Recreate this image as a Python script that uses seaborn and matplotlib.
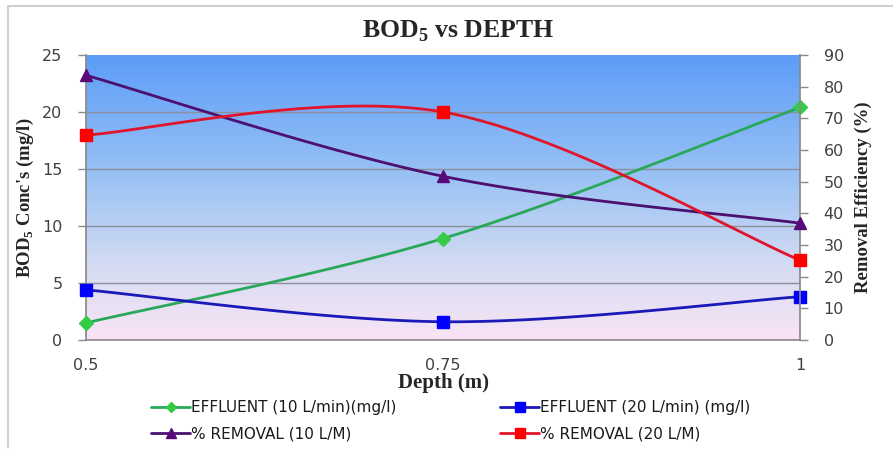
import numpy as np
import pandas as pd
import matplotlib
matplotlib.use("Agg")
import matplotlib.pyplot as plt
import seaborn as sns
from matplotlib.colors import LinearSegmentedColormap
from matplotlib.lines import Line2D

# ---- data ----
depth = [0.5, 0.75, 1.0]
effluent_10 = [1.5, 8.9, 20.4]      # mg/l (left axis)
effluent_20 = [4.4, 1.6, 3.8]       # mg/l (left axis)
removal_10 = [83.6, 51.7, 36.9]     # % (right axis)
removal_20 = [64.7, 72.0, 25.2]     # % (right axis)
x_ticks = [0.5, 0.75, 1.0]
x_ticklabels = ["0.5", "0.75", "1"]
left_ticks = [0, 5, 10, 15, 20, 25]
right_ticks = [0, 10, 20, 30, 40, 50, 60, 70, 80, 90]
labels = ["EFFLUENT (10 L/min)(mg/l)", "EFFLUENT (20 L/min) (mg/l)",
          "% REMOVAL (10 L/M)", "% REMOVAL (20 L/M)"]

sns.set_theme(style="white")
plt.rcParams['font.family'] = ['DejaVu Sans']
plt.rcParams['mathtext.fontset'] = 'custom'
plt.rcParams['mathtext.rm'] = 'Liberation Serif'
plt.rcParams['mathtext.bf'] = 'Liberation Serif:bold'


def smooth(xs, ys, n=40):
    """Catmull-Rom style smoothing (like Excel's smoothed line) for drawing."""
    P = np.column_stack([xs, ys]).astype(float)
    ext = np.vstack([P[0], P, P[-1]])
    out = []
    for i in range(len(P) - 1):
        p0, p1, p2, p3 = ext[i], ext[i + 1], ext[i + 2], ext[i + 3]
        c1 = p1 + (p2 - p0) / 6.0
        c2 = p2 - (p3 - p1) / 6.0
        t = np.linspace(0, 1, n)[:, None]
        seg = ((1 - t) ** 3) * p1 + 3 * ((1 - t) ** 2) * t * c1 + 3 * (1 - t) * t ** 2 * c2 + t ** 3 * p2
        out.append(seg if i == 0 else seg[1:])
    s = np.vstack(out)
    return pd.DataFrame({"x": s[:, 0], "y": s[:, 1]})


W, H = 893, 453
fig = plt.figure(figsize=(W / 100, H / 100), dpi=100)
L, R, T, B = 86, 800, 55, 340
ax = fig.add_axes([L / W, 1 - B / H, (R - L) / W, (B - T) / H])
ax2 = ax.twinx()

# gradient background
cmap = LinearSegmentedColormap.from_list("bg", [(0.0, "#5c9df8"), (0.45, "#9ec4f4"),
                                                (0.75, "#d6dcf2"), (1.0, "#fae4f6")])
grad = np.linspace(0, 1, 256)[:, None]
ax.imshow(grad, extent=[0, 1, 0, 1], transform=ax.transAxes, cmap=cmap,
          aspect="auto", zorder=0)

# gridlines
for v in left_ticks[1:-1]:
    ax.axhline(v, color="#8c8f9c", lw=1.0, zorder=1)

series = [
    (ax, effluent_10, "#2aa85a", "#33cc44", "D", 7),
    (ax, effluent_20, "#1a1ab8", "#0000ff", "s", 9),
    (ax2, removal_10, "#4b1070", "#5a0a78", "^", 9),
    (ax2, removal_20, "#e0142a", "#ff0000", "s", 9),
]
handles = []
for a, vals, lc, mc, mk, ms in series:
    df = smooth(depth, vals)
    sns.lineplot(data=df, x="x", y="y", ax=a, color=lc, lw=2.0, sort=False,
                 estimator=None, zorder=3, clip_on=False)
    a.plot(depth, vals, linestyle="none", marker=mk, color=mc, ms=ms,
           mec=mc, zorder=4, clip_on=False)
    handles.append(Line2D([0], [0], color=lc, lw=2, marker=mk, ms=ms * 0.8,
                          mfc=mc, mec=mc))

ax.set_xlim(0.5, 1.0)
ax.set_ylim(0, 25)
ax2.set_ylim(0, 90)
ax.set_xticks(x_ticks)
ax.set_xticklabels(x_ticklabels)
ax.set_yticks(left_ticks)
ax2.set_yticks(right_ticks)

tick_color = "#404040"
for a in (ax, ax2):
    a.tick_params(axis="both", labelsize=11.5, colors=tick_color, length=6,
                  width=1, direction="out", pad=11)
    for s in a.spines.values():
        s.set_visible(False)
    a.set_xlabel("")
    a.set_ylabel("")
ax.tick_params(axis="x", pad=7)
for s in ["left", "bottom"]:
    ax.spines[s].set_visible(True)
    ax.spines[s].set_color("#8a8a8a")
ax2.spines["right"].set_visible(True)
ax2.spines["right"].set_color("#8a8a8a")
ax.tick_params(axis="both", colors="#8a8a8a", labelcolor=tick_color)
ax2.tick_params(axis="y", colors="#8a8a8a", labelcolor=tick_color)

serif = "Liberation Serif"
ax.set_xlabel("Depth (m)", family=serif, fontweight="bold", fontsize=15, labelpad=0)
ax.set_ylabel(r"BOD$_\mathbf{5}$ Conc's (mg/l)", family=serif, fontweight="bold",
              fontsize=13.5, labelpad=4)
ax2.set_ylabel("Removal Efficiency (%)", family=serif, fontweight="bold",
               fontsize=13.5, labelpad=8)
fig.text(0.513, 1 - 31 / H, r"BOD$_\mathbf{5}$ vs DEPTH", family=serif,
         fontweight="bold", fontsize=18.5, ha="center", va="center")

# legend rows: (green, blue) then (purple, red); matplotlib fills column-wise
order = [0, 2, 1, 3]
fig.legend([handles[i] for i in order], [labels[i] for i in order], ncol=2,
           loc="center", bbox_to_anchor=(0.505, 1 - 421 / H),
           frameon=False, fontsize=11, handlelength=2.5, columnspacing=6.8,
           handletextpad=0.1, labelspacing=0.75, labelcolor="#1a1a1a")

# outer chart frame (top/left visible in reference)
fig.add_artist(Line2D([8 / W, 8 / W], [1 - 447 / H, 1 - 6 / H], color="#d0d0d0",
                      lw=1.5, transform=fig.transFigure))
fig.add_artist(Line2D([8 / W, 1.0], [1 - 6 / H, 1 - 6 / H], color="#d0d0d0",
                      lw=1.5, transform=fig.transFigure))

fig.savefig("out.png", dpi=100)
